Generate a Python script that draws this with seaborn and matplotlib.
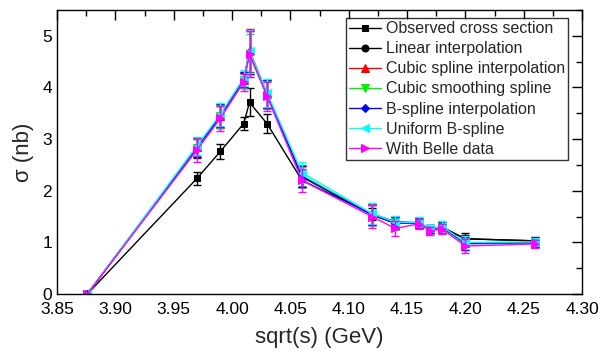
import numpy as np
import pandas as pd
import matplotlib
matplotlib.use('Agg')
import matplotlib.pyplot as plt
import seaborn as sns
from matplotlib.ticker import MultipleLocator

# Data
energy = [3.876, 3.97, 3.99, 4.01, 4.015, 4.03, 4.06, 4.12, 4.14, 4.16, 4.17, 4.18, 4.20, 4.26]

observed = [0, 2.24, 2.76, 3.30, 3.71, 3.30, 2.20, 1.55, 1.40, 1.38, 1.25, 1.28, 1.07, 1.03]
observed_err = [0, 0.13, 0.15, 0.13, 0.27, 0.18, 0.12, 0.12, 0.10, 0.08, 0.06, 0.08, 0.08, 0.06]

linear = [0, 2.82, 3.43, 4.13, 4.68, 3.87, 2.27, 1.54, 1.37, 1.38, 1.26, 1.30, 1.07, 1.03]
cubic = [0, 2.85, 3.45, 4.15, 4.72, 3.88, 2.28, 1.54, 1.37, 1.38, 1.25, 1.29, 0.98, 0.99]
smoothing = [0, 2.83, 3.44, 4.14, 4.62, 3.86, 2.30, 1.53, 1.38, 1.37, 1.25, 1.30, 0.97, 0.99]
bspline = [0, 2.84, 3.45, 4.15, 4.69, 3.87, 2.27, 1.53, 1.37, 1.38, 1.26, 1.30, 0.98, 1.00]
uniform = [0, 2.87, 3.48, 4.18, 4.70, 3.90, 2.35, 1.56, 1.39, 1.39, 1.27, 1.31, 1.00, 1.01]
belle = [0, 2.79, 3.40, 4.10, 4.65, 3.83, 2.20, 1.50, 1.27, 1.36, 1.22, 1.26, 0.93, 0.97]
interp_err = [0, 0.18, 0.22, 0.15, 0.42, 0.27, 0.20, 0.20, 0.12, 0.10, 0.07, 0.10, 0.12, 0.08]
belle_err = [0, 0.23, 0.24, 0.16, 0.44, 0.28, 0.22, 0.22, 0.14, 0.10, 0.07, 0.10, 0.13, 0.08]

series = [
    ('Observed cross section', observed, observed_err, 'black', 's'),
    ('Linear interpolation', linear, interp_err, 'black', 'o'),
    ('Cubic spline interpolation', cubic, interp_err, '#ff0000', '^'),
    ('Cubic smoothing spline', smoothing, interp_err, '#00f000', 'v'),
    ('B-spline interpolation', bspline, interp_err, '#0000ff', 'D'),
    ('Uniform B-spline', uniform, interp_err, '#00ffff', '<'),
    ('With Belle data', belle, belle_err, '#ff00ff', '>'),
]

sns.set_style('white')
plt.rcParams['font.family'] = ['Liberation Sans', 'DejaVu Sans']

fig = plt.figure(figsize=(6, 3.56), dpi=100)
ax = fig.add_axes([0.095, 0.174, 0.875, 0.798])

for label, vals, errs, color, marker in series:
    df = pd.DataFrame({'x': energy, 'y': vals})
    ax.errorbar(energy, vals, yerr=errs, fmt='none', ecolor=color,
                elinewidth=1, capsize=3, capthick=1)
    ms = 5 if marker in ('s', 'o') else 5.5
    if marker == 'D':
        ms = 4.5
    sns.lineplot(data=df, x='x', y='y', ax=ax, color=color, marker=marker,
                 markersize=ms, markeredgecolor=color, linewidth=1,
                 label=label, sort=False)

ax.set_xlim(3.85, 4.30)
ax.set_ylim(0, 5.5)
ax.xaxis.set_major_locator(MultipleLocator(0.05))
ax.xaxis.set_minor_locator(MultipleLocator(0.025))
ax.yaxis.set_major_locator(MultipleLocator(1))
ax.yaxis.set_minor_locator(MultipleLocator(0.5))
ax.xaxis.set_major_formatter(matplotlib.ticker.FormatStrFormatter('%.2f'))
ax.tick_params(which='both', direction='in', top=True, right=True,
               labelsize=12.5, width=1, colors='black')
ax.tick_params(which='major', length=7)
ax.tick_params(which='minor', length=4)
ax.tick_params(axis='x', pad=6)
for sp in ax.spines.values():
    sp.set_color('black')
    sp.set_linewidth(1)

ax.set_xlabel('sqrt(s) (GeV)', fontsize=16, labelpad=7)
ax.set_ylabel('σ (nb)', fontsize=16, labelpad=6)

leg = ax.legend(loc='upper right', bbox_to_anchor=(0.974, 0.972), fontsize=11.5,
                frameon=True, fancybox=False, edgecolor='black',
                handlelength=2.0, handletextpad=0.3, labelspacing=0.32,
                borderpad=0.2, borderaxespad=0)
leg.get_frame().set_linewidth(1)

fig.savefig('out.png', dpi=100)
